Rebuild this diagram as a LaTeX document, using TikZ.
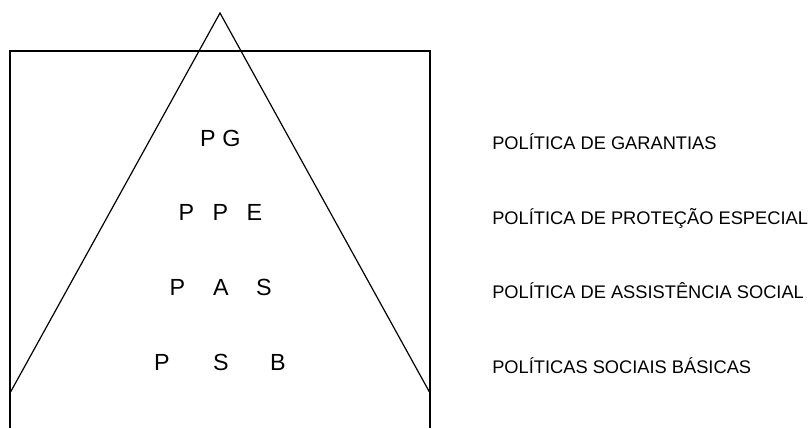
\documentclass[tikz,border=0pt]{standalone}
\usepackage{fontspec}
\setmainfont{Liberation Sans}
\usetikzlibrary{positioning}

\begin{document}
\begin{tikzpicture}[x=0.75pt, y=-0.75pt,
    letter node/.style={anchor=base, inner sep=0pt, font=\fontsize{17.5}{20}\selectfont},
    policy node/.style={anchor=base west, inner sep=0pt, font=\fontsize{13.7}{16}\selectfont},
    box line/.style={line width=1.2pt},
    pyramid line/.style={line width=0.9pt}]
    \useasboundingbox (0,0) rectangle (809,428);

    % frame and pyramid
    \coordinate (box-bl) at (10,428);
    \coordinate (box-tl) at (10,51);
    \coordinate (box-tr) at (430,51);
    \coordinate (box-br) at (430,428);
    \coordinate (apex) at (220,13);
    \coordinate (base-l) at (10,393);
    \coordinate (base-r) at (430,393);

    \draw[box line] (box-bl) -- (box-tl) -- (box-tr) -- (box-br);
    \draw[pyramid line] (base-l) -- (apex) -- (base-r);

    % letters inside the pyramid
    \node[letter node] (pg-p) at (208,146) {P};
    \node[letter node] (pg-g) at (231.5,146) {G};

    \node[letter node] (ppe-p1) at (186.5,220) {P};
    \node[letter node] (ppe-p2) at (220.5,220) {P};
    \node[letter node] (ppe-e) at (254.5,220) {E};

    \node[letter node] (pas-p) at (177.5,295) {P};
    \node[letter node] (pas-a) at (221,295) {A};
    \node[letter node] (pas-s) at (264,295) {S};

    \node[letter node] (psb-p) at (162,370.5) {P};
    \node[letter node] (psb-s) at (221,370.5) {S};
    \node[letter node] (psb-b) at (278,370.5) {B};

    % policy names
    \node[policy node] (pol-g) at (492,149.5) {POLÍTICA DE GARANTIAS};
    \node[policy node] (pol-pe) at (492,224.5) {POLÍTICA DE PROTEÇÃO ESPECIAL};
    \node[policy node] (pol-as) at (492,298.5) {POLÍTICA DE ASSISTÊNCIA SOCIAL};
    \node[policy node] (pol-sb) at (492,373.5) {POLÍTICAS SOCIAIS BÁSICAS};
\end{tikzpicture}
\end{document}
